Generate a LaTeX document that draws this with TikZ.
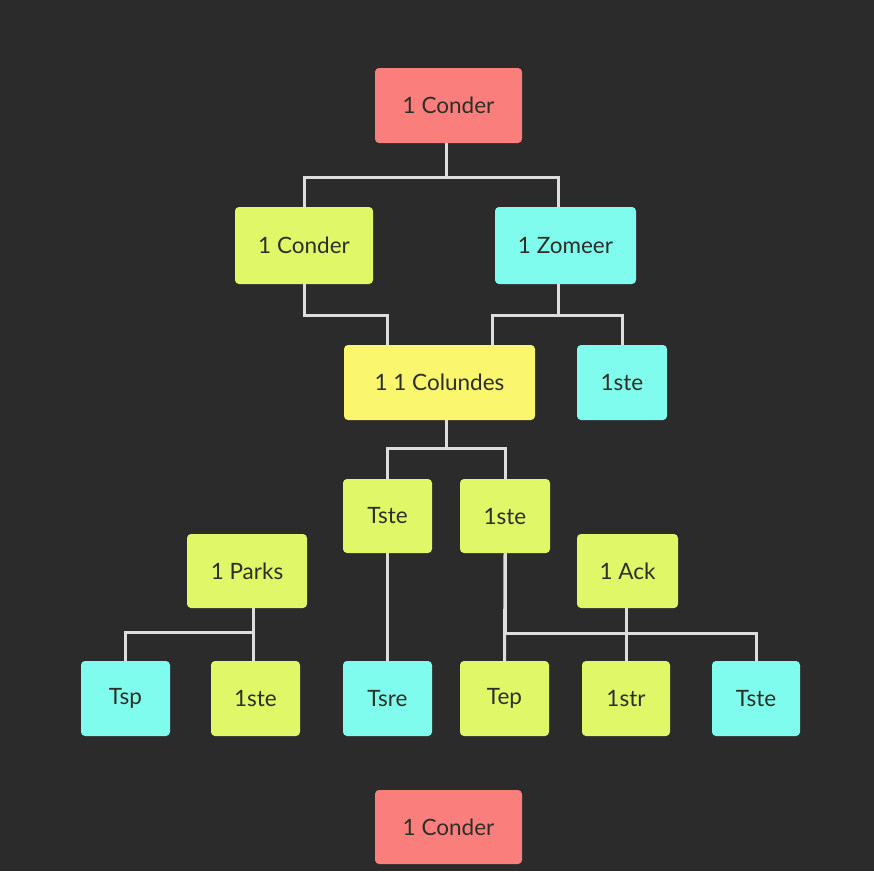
\documentclass[tikz,border=0pt]{standalone}
\usepackage{fontspec}
\setmainfont{Lato}
\definecolor{bg}{HTML}{2B2B2B}
\definecolor{cred}{HTML}{FA7E7C}
\definecolor{clime}{HTML}{E0F868}
\definecolor{ccyan}{HTML}{80FCEE}
\definecolor{cyel}{HTML}{FAF66E}
\definecolor{ctext}{HTML}{2E2E28}
\definecolor{cline}{HTML}{DDDDDD}
\begin{document}
\begin{tikzpicture}[x=1pt,y=-1pt,
  box/.style={rectangle, rounded corners=4pt, inner sep=0pt, text=ctext,
    font=\fontsize{22.5}{26}\selectfont},
  redbox/.style={box, fill=cred},
  limebox/.style={box, fill=clime},
  cyanbox/.style={box, fill=ccyan},
  yelbox/.style={box, fill=cyel},
  conn/.style={draw=cline, line width=3pt}]
\fill[bg] (0,0) rectangle (874,871);
\useasboundingbox (0,0) rectangle (874,871);
% nodes
\node[redbox, minimum width=147pt, minimum height=75pt] (top) at (448.5,105.5) {1 Conder};
\node[limebox, minimum width=138pt, minimum height=77pt] (c1) at (304,245.5) {1 Conder};
\node[cyanbox, minimum width=141pt, minimum height=77pt] (z) at (565.5,245.5) {1 Zomeer};
\node[yelbox, minimum width=191pt, minimum height=75pt] (col) at (439.5,382.5) {1 1 Colundes};
\node[cyanbox, minimum width=90pt, minimum height=75pt] (s1) at (622,382.5) {1ste};
\node[limebox, minimum width=89pt, minimum height=74pt] (t1) at (387.5,516) {Tste};
\node[limebox, minimum width=90pt, minimum height=74pt] (t2) at (505,516) {1ste};
\node[limebox, minimum width=120pt, minimum height=74pt] (parks) at (247,571) {1 Parks};
\node[limebox, minimum width=101pt, minimum height=74pt] (ack) at (627.5,571) {1 Ack};
\node[cyanbox, minimum width=89pt, minimum height=75pt] (b1) at (125.5,698.5) {Tsp};
\node[limebox, minimum width=89pt, minimum height=75pt] (b2) at (255.5,698.5) {1ste};
\node[cyanbox, minimum width=89pt, minimum height=75pt] (b3) at (387.5,698.5) {Tsre};
\node[limebox, minimum width=89pt, minimum height=75pt] (b4) at (504.5,698.5) {Tep};
\node[limebox, minimum width=88pt, minimum height=75pt] (b5) at (626,698.5) {1str};
\node[cyanbox, minimum width=88pt, minimum height=75pt] (b6) at (756,698.5) {Tste};
\node[redbox, minimum width=147pt, minimum height=74pt] (bot) at (448.5,827) {1 Conder};
% connectors
\draw[conn] ([xshift=-2pt]top.south) -- ++(0,34) -| (c1.north);
\draw[conn] ([xshift=-2pt]top.south) -- ++(0,34) -| ([xshift=-7pt]z.north);
\draw[conn] (c1.south) -- ++(0,31) -| ([xshift=-52.5pt]col.north);
\draw[conn] ([xshift=-7pt]z.south) -- ++(0,31) -| ([xshift=52.5pt]col.north);
\draw[conn] ([xshift=-7pt]z.south) -- ++(0,31) -| (s1.north);
\draw[conn] ([xshift=6.5pt]col.south) -- ++(0,28) -| (t1.north);
\draw[conn] ([xshift=6.5pt]col.south) -- ++(0,28) -| (t2.north);
\draw[conn] (t1.south) -- (b3.north);
\draw[conn] (t2.south) -- (b4.north);
\draw[conn] (t2.south) -- ++(0,80) -| (b6.north);
\draw[conn] (b5.north) -- (b5.north |- ack.south);
\draw[conn] ([xshift=-2.5pt]b2.north) -- ([xshift=-2.5pt]b2.north |- parks.south);
\draw[conn] ([xshift=-2.5pt]b2.north) -- ++(0,-28) -| (b1.north);
\end{tikzpicture}
\end{document}
